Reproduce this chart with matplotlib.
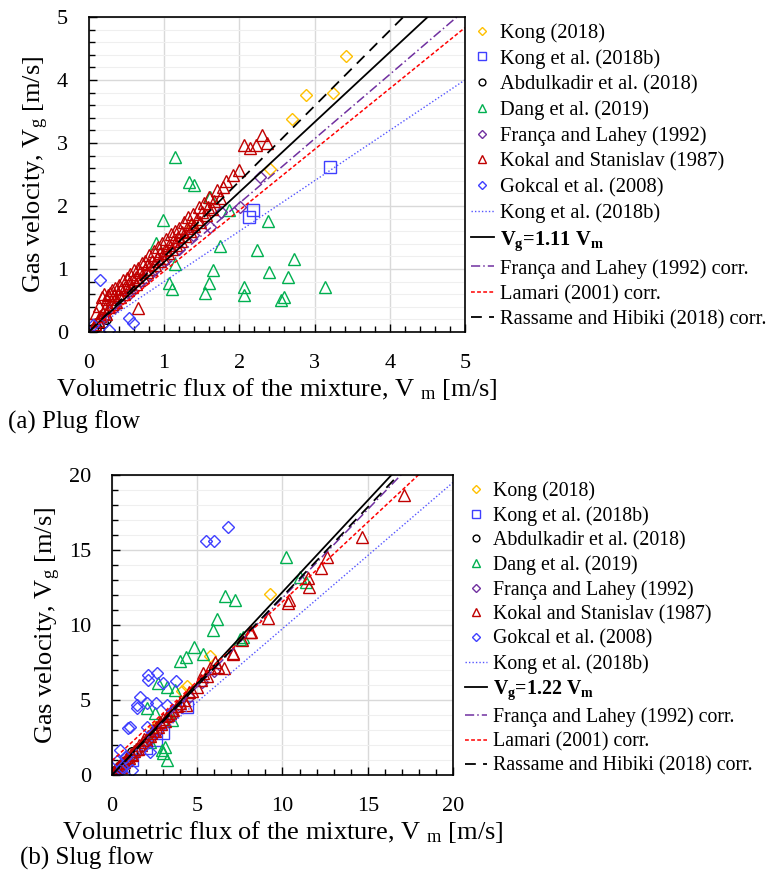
import numpy as np
import matplotlib
matplotlib.use("Agg")
import matplotlib.pyplot as plt
from matplotlib.ticker import MultipleLocator

plt.rcParams["font.family"] = ["Liberation Serif", "DejaVu Serif"]
plt.rcParams["mathtext.fontset"] = "custom"
plt.rcParams["mathtext.rm"] = "Liberation Serif"
plt.rcParams["mathtext.it"] = "Liberation Serif:italic"
plt.rcParams["mathtext.bf"] = "Liberation Serif:bold"

# ---------------- (a) plug flow ----------------
kong_a_x = [3.42, 2.89, 3.24, 2.70, 2.41, 1.37]
kong_a_y = [4.38, 3.76, 3.79, 3.38, 2.59, 1.70]
kongb_a_x = [3.20, 2.18, 2.13]
kongb_a_y = [2.62, 1.94, 1.83]
abdul_a_x = [0.05, 0.10, 0.14, 0.18, 0.22]
abdul_a_y = [0.05, 0.08, 0.15, 0.14, 0.20]
dang_a_x = [1.14, 1.33, 1.40, 0.98, 1.86, 2.38, 0.89, 1.74, 2.23, 1.14, 2.73, 1.65,
            2.39, 2.65, 1.60, 1.07, 1.10, 1.54, 2.06, 2.06, 2.59, 2.56, 3.14, 1.61]
dang_a_y = [2.78, 2.38, 2.33, 1.78, 1.94, 1.76, 1.41, 1.37, 1.30, 1.08, 1.16, 0.98,
            0.95, 0.88, 0.78, 0.78, 0.68, 0.62, 0.71, 0.59, 0.56, 0.51, 0.71, 2.14]
franca_a_x = [2.27, 2.01, 1.76, 1.61, 1.38, 1.20, 1.00, 0.80, 0.55, 0.35, 0.20]
franca_a_y = [2.46, 1.98, 1.90, 1.67, 1.54, 1.32, 1.12, 0.90, 0.62, 0.40, 0.22]
kokal_a_x = [0.08, 0.10, 0.12, 0.14, 0.15, 0.17, 0.18, 0.20, 0.21, 0.22, 0.24, 0.25,
             0.27, 0.28, 0.30, 0.31, 0.33, 0.35, 0.36, 0.38, 0.40, 0.41, 0.43, 0.45,
             0.46, 0.48, 0.50, 0.52, 0.53, 0.55, 0.57, 0.58, 0.60, 0.62, 0.63, 0.65,
             0.67, 0.68, 0.70, 0.72, 0.74, 0.75, 0.77, 0.79, 0.80, 0.82, 0.84, 0.86,
             0.88, 0.90, 0.92, 0.94, 0.95, 0.97, 0.99, 1.01, 1.03, 1.05, 1.07, 1.09,
             1.10, 1.12, 1.14, 1.16, 1.18, 1.20, 1.22, 1.24, 1.26, 1.28, 1.30, 1.32,
             1.34, 1.36, 1.38, 1.40, 1.43, 1.46, 1.48, 1.50, 1.53, 1.55, 1.58, 1.60,
             1.63, 1.66, 1.70, 1.74, 1.78, 1.82, 1.99, 1.91, 2.06, 2.14, 2.22, 2.30,
             2.37, 0.65]
kokal_a_y = [0.12, 0.30, 0.18, 0.42, 0.25, 0.55, 0.30, 0.60, 0.38, 0.28, 0.52, 0.58,
             0.40, 0.62, 0.66, 0.45, 0.58, 0.70, 0.48, 0.62, 0.75, 0.55, 0.68, 0.82,
             0.60, 0.72, 0.86, 0.66, 0.78, 0.92, 0.72, 0.84, 0.98, 0.76, 0.88, 1.02,
             0.82, 0.95, 1.10, 0.88, 1.00, 1.12, 0.95, 1.08, 1.22, 1.00, 1.12, 1.28,
             1.06, 1.18, 1.35, 1.12, 1.25, 1.42, 1.18, 1.30, 1.48, 1.25, 1.38, 1.55,
             1.32, 1.45, 1.60, 1.38, 1.50, 1.65, 1.45, 1.58, 1.75, 1.52, 1.65, 1.82,
             1.60, 1.72, 1.88, 1.68, 1.80, 1.98, 1.75, 1.90, 2.05, 1.85, 1.98, 2.15,
             1.95, 2.08, 2.25, 2.12, 2.30, 2.40, 2.57, 2.49, 2.96, 2.92, 2.96, 3.13,
             3.00, 0.38]
gokcal_a_x = [0.15, 0.53, 0.59, 0.26, 0.06]
gokcal_a_y = [0.83, 0.22, 0.14, 0.03, 0.11]
# correlation slopes / intercepts
corr_a = {"kongb": (0.80, 0.0), "fit": (1.11, 0.0), "franca": (1.022, 0.0),
          "lamari": (0.966, 0.0), "rassame": (1.196, 0.0)}

# ---------------- (b) slug flow ----------------
kong_b_x = [9.27, 5.75, 4.38, 4.10, 2.50]
kong_b_y = [12.04, 7.93, 5.93, 5.60, 3.20]
kongb_b_x = [3.01, 2.60, 4.38, 2.00, 1.20]
kongb_b_y = [2.78, 2.30, 4.55, 1.80, 1.00]
abdul_b_x = [0.10, 0.20, 0.30, 0.40, 0.50, 0.60, 0.80, 1.00, 1.20, 0.15]
abdul_b_y = [0.10, 0.25, 0.30, 0.50, 0.55, 0.70, 0.95, 1.10, 1.50, 0.20]
dang_b_x = [10.2, 6.63, 7.21, 6.18, 5.94, 4.81, 5.32, 4.34, 3.99, 7.66, 11.03, 7.51,
            11.38, 2.72, 3.20, 3.70, 2.03, 2.52, 2.91, 3.01, 3.20, 3.10, 3.50, 2.23]
dang_b_y = [14.5, 11.9, 11.67, 10.38, 9.67, 8.55, 8.07, 7.84, 7.60, 9.22, 13.2, 9.04,
            12.89, 6.11, 5.89, 5.67, 4.45, 4.16, 1.67, 1.44, 1.00, 1.89, 3.67, 2.22]
franca_b_x = [0.3, 0.6, 1.0, 1.4, 1.8, 2.2, 2.6, 3.0, 3.5, 4.0, 4.5, 6.0, 5.3]
franca_b_y = [0.35, 0.7, 1.1, 1.6, 2.0, 2.5, 2.9, 3.4, 3.9, 4.6, 5.2, 6.9, 6.2]
kokal_b_x = [0.2, 0.3, 0.4, 0.5, 0.6, 0.7, 0.8, 0.9, 1.0, 1.1, 1.2, 1.3, 1.4, 1.5,
             1.6, 1.7, 1.8, 1.9, 2.0, 2.1, 2.2, 2.3, 2.4, 2.5, 2.6, 2.7, 2.8, 2.9,
             3.0, 3.1, 3.2, 3.3, 3.4, 3.5, 3.6, 3.8, 4.0, 4.2, 4.34, 4.5, 4.7, 4.96,
             5.2, 5.36, 5.6, 5.75, 6.04, 6.2, 6.57, 7.08, 7.12, 7.6, 8.09, 8.15, 9.17,
             10.34, 10.38, 11.51, 11.57, 12.24, 12.59, 14.64, 17.13]
kokal_b_y = [0.3, 0.45, 0.6, 0.55, 0.8, 0.85, 1.0, 1.2, 1.15, 1.4, 1.35, 1.6, 1.7, 1.75,
             2.0, 2.0, 2.2, 2.4, 2.3, 2.6, 2.6, 2.8, 3.0, 2.9, 3.2, 3.2, 3.5, 3.4,
             3.7, 3.6, 3.9, 4.0, 4.1, 4.3, 4.3, 4.6, 4.8, 5.0, 4.67, 5.5, 5.6, 5.89,
             6.3, 6.78, 6.6, 7.11, 7.56, 7.2, 7.11, 8.07, 8.11, 9.0, 9.55, 9.56, 10.45,
             11.49, 11.67, 13.11, 12.56, 13.78, 14.55, 15.89, 18.67]
gokcal_b_x = [6.82, 5.51, 6.00, 2.62, 2.13, 2.13, 2.97, 3.75, 1.64, 1.49, 1.45, 2.03,
              2.56, 3.20, 1.06, 0.96, 2.03, 0.47, 2.23, 1.15, 0.57, 0.30, 0.80, 0.50]
gokcal_b_y = [16.55, 15.62, 15.62, 6.78, 6.67, 6.33, 6.15, 6.29, 5.18, 4.67, 4.45, 4.82,
              4.82, 4.67, 3.22, 3.11, 3.22, 1.67, 1.55, 0.33, 0.56, 0.90, 1.20, 0.30]
corr_b = {"kongb": (0.975, 0.0), "fit": (1.22, 0.0), "franca": (1.18, 0.0),
          "lamari": (1.06, 0.95), "rassame": (1.19, 0.0)}

C_YEL = "#FFC000"
C_BLUE = "#3F3FFF"
C_GREEN = "#00B050"
C_PURP = "#7030A0"
C_RED = "#C00000"


def draw(ax, sets, corr, lim, major, minor, fitlabel):
    styles = [("Kong (2018)", "D", C_YEL, 6.5),
              ("Kong et al. (2018b)", "s", C_BLUE, 8),
              ("Abdulkadir et al. (2018)", "o", "black", 7),
              ("Dang et al. (2019)", "^", C_GREEN, 9),
              ("França and Lahey (1992)", "D", C_PURP, 6.5),
              ("Kokal and Stanislav (1987)", "^", C_RED, 9),
              ("Gokcal et al. (2008)", "D", C_BLUE, 6.5)]
    for (lab, m, c, ms), (xs, ys) in zip(styles, sets):
        ax.plot(xs, ys, ls="none", marker=m, ms=ms, mfc="none", mec=c, mew=1.0,
                label=lab)
    xx = np.array([0, lim])
    k, b = corr["kongb"]
    ax.plot(xx, k * xx + b, ls=(0, (1, 1.5)), color="#5555FF", lw=1.0,
            label="Kong et al. (2018b)")
    k, b = corr["fit"]
    ax.plot(xx, k * xx + b, ls="-", color="black", lw=1.3, label=fitlabel)
    k, b = corr["franca"]
    ax.plot(xx, k * xx + b, ls=(0, (6, 2, 1, 2)), color=C_PURP, lw=1.1,
            label="França and Lahey (1992) corr.")
    k, b = corr["lamari"]
    ax.plot(xx, k * xx + b, ls=(0, (2.5, 1.5)), color="#FF0000", lw=1.1,
            label="Lamari (2001) corr.")
    k, b = corr["rassame"]
    ax.plot(xx, k * xx + b, ls=(0, (6, 4)), color="black", lw=1.3,
            label="Rassame and Hibiki (2018) corr.")

    ax.set_xlim(0, lim); ax.set_ylim(0, lim)
    ax.xaxis.set_major_locator(MultipleLocator(major))
    ax.yaxis.set_major_locator(MultipleLocator(major))
    ax.xaxis.set_minor_locator(MultipleLocator(minor))
    ax.yaxis.set_minor_locator(MultipleLocator(minor))
    ax.grid(axis="x", which="major", color="#d9d9d9", lw=1.0)
    ax.grid(axis="y", which="major", color="#d9d9d9", lw=1.0)
    ax.grid(axis="y", which="minor", color="#efefef", lw=0.8)
    ax.set_axisbelow(True)
    ax.tick_params(which="both", direction="in", top=False, right=False,
                   labelsize=16, width=1.0)
    ax.tick_params(axis="x", pad=16)
    ax.tick_params(axis="y", pad=15)
    ax.tick_params(which="major", length=6)
    ax.tick_params(which="minor", length=4)
    for s in ax.spines.values():
        s.set_linewidth(1.2); s.set_color("black")
    ax.set_xlabel("Volumetric flux of the mixture, V $_{\\rm m}$ [m/s]", fontsize=19,
                  labelpad=2)
    ax.set_ylabel("Gas velocity, V$_{\\rm g}$ [m/s]", fontsize=19, labelpad=4)


fig = plt.figure(figsize=(7.73, 8.75), dpi=100)
ax1 = fig.add_axes([0.1151, 0.6206, 0.4864, 0.36])
ax2 = fig.add_axes([0.1449, 0.1143, 0.4411, 0.3429])

fit_a = "$\\mathbf{V_g}$=1.11 $\\mathbf{V_m}$"
fit_b = "$\\mathbf{V_g}$=1.22 $\\mathbf{V_m}$"
draw(ax1, [(kong_a_x, kong_a_y), (kongb_a_x, kongb_a_y), (abdul_a_x, abdul_a_y),
           (dang_a_x, dang_a_y), (franca_a_x, franca_a_y), (kokal_a_x, kokal_a_y),
           (gokcal_a_x, gokcal_a_y)], corr_a, 5, 1, 0.2, fit_a)
draw(ax2, [(kong_b_x, kong_b_y), (kongb_b_x, kongb_b_y), (abdul_b_x, abdul_b_y),
           (dang_b_x, dang_b_y), (franca_b_x, franca_b_y), (kokal_b_x, kokal_b_y),
           (gokcal_b_x, gokcal_b_y)], corr_b, 20, 5, 1, fit_b)

for ax, anchor, fs, sp in [(ax1, (471 / 773, 1 - 23 / 875), 14.8, 0.30),
                           (ax2, (465 / 773, 1 - 481 / 875), 14.3, 0.26)]:
    leg = ax.legend(loc="upper left", bbox_to_anchor=anchor,
                    bbox_transform=fig.transFigure, frameon=False, fontsize=fs,
                    handlelength=1.1, handletextpad=0.3, labelspacing=sp,
                    borderpad=0, borderaxespad=0, markerscale=0.7, numpoints=1)
    leg.get_texts()[8].set_fontweight("bold")

fig.text(8 / 773, 1 - 422 / 875, "(a) Plug flow", fontsize=18, va="center")
fig.text(20 / 773, 1 - 858 / 875, "(b) Slug flow", fontsize=18, va="center")

fig.savefig("out.png", dpi=100)
